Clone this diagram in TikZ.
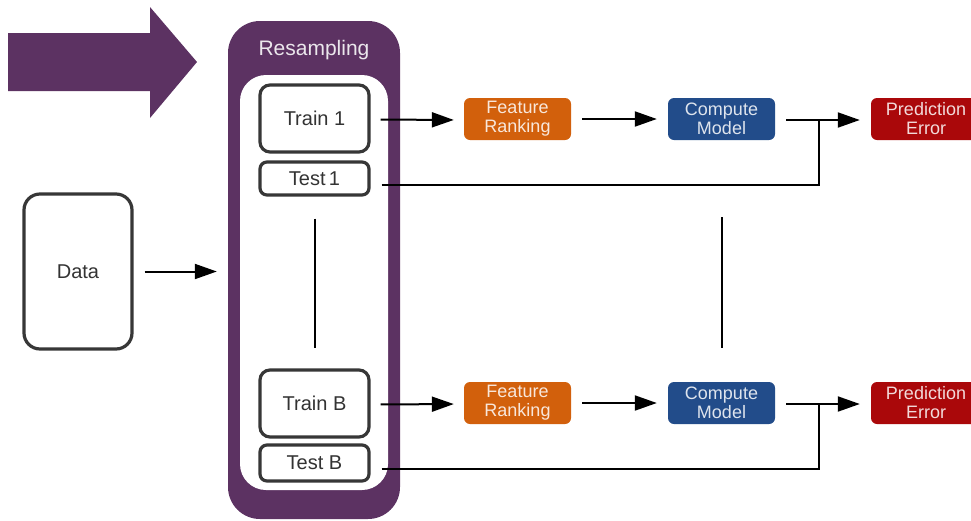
\documentclass[tikz,border=0pt]{standalone}
\usepackage{fontspec}
\setmainfont{Liberation Sans}
\usetikzlibrary{arrows.meta}
\definecolor{resample}{RGB}{92,50,98}
\definecolor{boxline}{RGB}{55,55,55}
\definecolor{featfill}{RGB}{210,96,12}
\definecolor{compfill}{RGB}{34,76,138}
\definecolor{predfill}{RGB}{170,8,10}
\tikzset{
  x=1pt, y=-1pt,
  plainbox/.style={draw=boxline, line width=3.2pt, fill=white, rounded corners=#1,
    inner sep=0pt, text=black!80, font=\fontsize{20}{22}\selectfont},
  plainbox/.default=10pt,
  stagebox/.style={fill=#1, rounded corners=6pt, minimum width=107pt, minimum height=42pt,
    inner sep=0pt, align=center, font=\fontsize{18}{19}\selectfont, text=white!85!#1},
  flow/.style={line width=2pt, -{Triangle[length=22pt,width=15pt]}},
  link/.style={line width=2pt},
}
\begin{document}
\begin{tikzpicture}
\useasboundingbox (0,0) rectangle (971,520);
\clip (0,0) rectangle (971,520);

% big pointer arrow
\fill[resample] (8,33) -- (150,33) -- (150,7) -- (197,62) -- (150,118) -- (150,91) -- (8,91) -- cycle;

% resampling container
\node[fill=resample, rounded corners=32pt, minimum width=172pt, minimum height=498pt, inner sep=0pt]
  (container) at (314,270) {};
\fill[white, rounded corners=26pt] (240,75) rectangle (388,490);
\node[text=white!88!resample, font=\fontsize{21}{23}\selectfont] (resamp) at (314,50) {Resampling};

% data
\node[plainbox=16pt, minimum width=108pt, minimum height=155pt] (data) at (78,271.5) {Data};

% splits
\node[plainbox, minimum width=109pt, minimum height=67pt] (train1) at (314.5,118.5) {Train 1};
\node[plainbox=7pt, minimum width=109pt, minimum height=33pt] (test1) at (314.5,178.5) {Test\,1};
\node[plainbox, minimum width=109pt, minimum height=67pt] (trainB) at (314.5,403.5) {Train B};
\node[plainbox=7pt, minimum width=109pt, minimum height=36pt] (testB) at (314.5,463) {Test B};

% stages
\node[stagebox=featfill] (feat1) at (517.5,119) {Feature\\Ranking};
\node[stagebox=compfill] (comp1) at (721.5,119) {Compute\\Model};
\node[stagebox=predfill, minimum width=110pt] (pred1) at (926,119) {Prediction\\Error};
\node[stagebox=featfill] (feat2) at (517.5,403) {Feature\\Ranking};
\node[stagebox=compfill] (comp2) at (721.5,403) {Compute\\Model};
\node[stagebox=predfill, minimum width=110pt] (pred2) at (926,403) {Prediction\\Error};

% junctions
\coordinate (j1) at (819,120);
\coordinate (j2) at (819,404);

% connectors
\draw[flow, shorten <=11pt, shorten >=11pt] (data.east) -- (container.west |- data.east);
\draw[flow, shorten <=10pt, shorten >=10pt] ([yshift=-1pt]train1.east) -- ([yshift=-1pt]feat1.west);
\draw[flow, shorten <=11pt, shorten >=11pt] (feat1.east) -- (comp1.west);
\draw[flow, shorten <=11pt, shorten >=11pt] ([yshift=-1pt]comp1.east) -- ([yshift=-1pt]pred1.west);
\draw[link] ([xshift=11pt,yshift=-6pt]test1.east) -| (j1);

\draw[flow, shorten <=10pt, shorten >=10pt] ([yshift=-1pt]trainB.east) -- ([yshift=-1pt]feat2.west);
\draw[flow, shorten <=11pt, shorten >=11pt] (feat2.east) -- (comp2.west);
\draw[flow, shorten <=11pt, shorten >=11pt] ([yshift=-1pt]comp2.east) -- ([yshift=-1pt]pred2.west);
\draw[link] ([xshift=11pt,yshift=-6pt]testB.east) -| (j2);

% ellipsis links between the two rows
\draw[link] ([yshift=-22pt]test1.south) -- ([yshift=20pt]trainB.north);
\draw[link] ([yshift=-77pt]comp1.south) -- ([yshift=20pt]comp1.south |- trainB.north);
\end{tikzpicture}
\end{document}
